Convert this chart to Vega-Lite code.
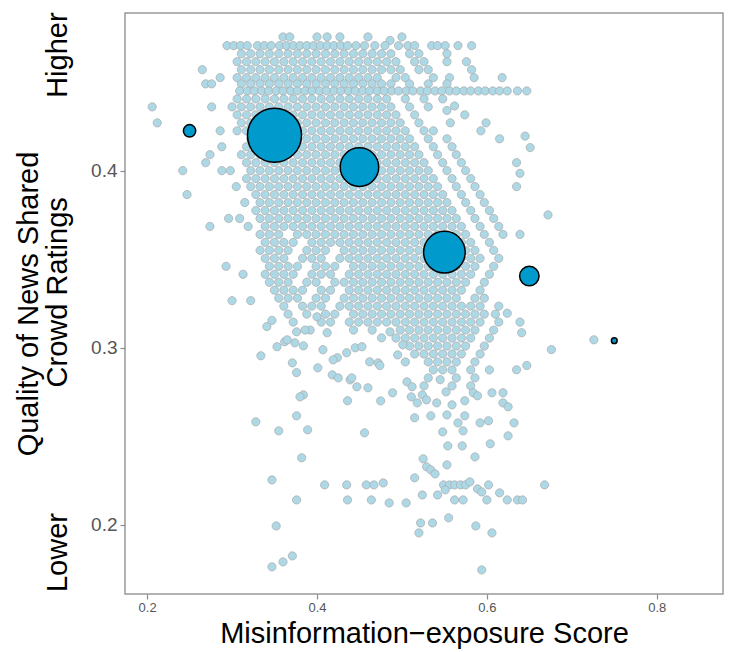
{
"$schema": "https://vega.github.io/schema/vega-lite/v6.json",
"width": 598, "height": 581,
"autosize": {"type": "none"},
"padding": {"left": 125, "top": 13, "right": 6, "bottom": 58},
"background": "white",
"config": {"font": "Liberation Sans", "view": {"stroke": "#999999", "strokeWidth": 1.5}},
"datasets": {
"bins": [
{"x":0.25,"y":0.4225,"n":56},{"x":0.35,"y":0.420,"n":1070},{"x":0.45,"y":0.402,"n":544},{"x":0.55,"y":0.354,"n":635},{"x":0.65,"y":0.3405,"n":139},{"x":0.75,"y":0.304,"n":12}
],
"pts": [
{"x":0.360,"y":0.4755},{"x":0.368,"y":0.4755},{"x":0.400,"y":0.4755},{"x":0.412,"y":0.4755},{"x":0.427,"y":0.4755},{"x":0.460,"y":0.4755},{"x":0.486,"y":0.4735},{"x":0.500,"y":0.4755},
{"x":0.294,"y":0.4706},{"x":0.302,"y":0.4706},{"x":0.310,"y":0.4706},{"x":0.318,"y":0.4706},{"x":0.330,"y":0.4706},{"x":0.338,"y":0.4706},{"x":0.346,"y":0.4706},{"x":0.356,"y":0.4706},{"x":0.364,"y":0.4706},{"x":0.372,"y":0.4706},{"x":0.380,"y":0.4706},{"x":0.388,"y":0.4706},{"x":0.396,"y":0.4706},{"x":0.404,"y":0.4706},{"x":0.412,"y":0.4706},{"x":0.420,"y":0.4706},{"x":0.428,"y":0.4706},{"x":0.436,"y":0.4706},{"x":0.446,"y":0.4706},{"x":0.456,"y":0.4706},{"x":0.468,"y":0.4706},{"x":0.480,"y":0.4706},{"x":0.496,"y":0.4706},{"x":0.507,"y":0.4706},{"x":0.515,"y":0.4706},{"x":0.535,"y":0.4706},{"x":0.542,"y":0.4706},{"x":0.551,"y":0.4706},{"x":0.566,"y":0.4706},{"x":0.582,"y":0.4706},
{"x":0.311,"y":0.466},{"x":0.322,"y":0.466},{"x":0.333,"y":0.466},{"x":0.344,"y":0.466},{"x":0.355,"y":0.466},{"x":0.366,"y":0.466},{"x":0.377,"y":0.466},{"x":0.388,"y":0.466},{"x":0.399,"y":0.466},{"x":0.410,"y":0.466},{"x":0.421,"y":0.466},{"x":0.432,"y":0.466},{"x":0.443,"y":0.466},{"x":0.454,"y":0.466},{"x":0.465,"y":0.466},{"x":0.476,"y":0.466},{"x":0.487,"y":0.466},{"x":0.509,"y":0.466},{"x":0.520,"y":0.466},{"x":0.553,"y":0.466},
{"x":0.306,"y":0.4615},{"x":0.317,"y":0.4615},{"x":0.328,"y":0.4615},{"x":0.339,"y":0.4615},{"x":0.350,"y":0.4615},{"x":0.361,"y":0.4615},{"x":0.372,"y":0.4615},{"x":0.383,"y":0.4615},{"x":0.394,"y":0.4615},{"x":0.405,"y":0.4615},{"x":0.416,"y":0.4615},{"x":0.427,"y":0.4615},{"x":0.438,"y":0.4615},{"x":0.449,"y":0.4615},{"x":0.460,"y":0.4615},{"x":0.471,"y":0.4615},{"x":0.482,"y":0.4615},{"x":0.493,"y":0.4615},{"x":0.515,"y":0.4615},{"x":0.526,"y":0.4615},{"x":0.553,"y":0.4615},{"x":0.576,"y":0.4615},
{"x":0.265,"y":0.457},{"x":0.311,"y":0.457},{"x":0.322,"y":0.457},{"x":0.333,"y":0.457},{"x":0.344,"y":0.457},{"x":0.355,"y":0.457},{"x":0.366,"y":0.457},{"x":0.377,"y":0.457},{"x":0.388,"y":0.457},{"x":0.399,"y":0.457},{"x":0.410,"y":0.457},{"x":0.421,"y":0.457},{"x":0.432,"y":0.457},{"x":0.443,"y":0.457},{"x":0.454,"y":0.457},{"x":0.465,"y":0.457},{"x":0.476,"y":0.457},{"x":0.487,"y":0.457},{"x":0.498,"y":0.457},{"x":0.520,"y":0.457},{"x":0.531,"y":0.457},{"x":0.582,"y":0.457},
{"x":0.286,"y":0.4525},{"x":0.306,"y":0.4525},{"x":0.317,"y":0.4525},{"x":0.328,"y":0.4525},{"x":0.339,"y":0.4525},{"x":0.350,"y":0.4525},{"x":0.361,"y":0.4525},{"x":0.372,"y":0.4525},{"x":0.383,"y":0.4525},{"x":0.394,"y":0.4525},{"x":0.405,"y":0.4525},{"x":0.416,"y":0.4525},{"x":0.427,"y":0.4525},{"x":0.438,"y":0.4525},{"x":0.449,"y":0.4525},{"x":0.460,"y":0.4525},{"x":0.471,"y":0.4525},{"x":0.493,"y":0.4525},{"x":0.504,"y":0.4525},{"x":0.537,"y":0.4525},{"x":0.556,"y":0.4525},{"x":0.585,"y":0.4525},{"x":0.618,"y":0.4525},
{"x":0.269,"y":0.449},{"x":0.276,"y":0.449},{"x":0.311,"y":0.449},{"x":0.322,"y":0.449},{"x":0.333,"y":0.449},{"x":0.344,"y":0.449},{"x":0.355,"y":0.449},{"x":0.366,"y":0.449},{"x":0.377,"y":0.449},{"x":0.388,"y":0.449},{"x":0.399,"y":0.449},{"x":0.410,"y":0.449},{"x":0.421,"y":0.449},{"x":0.432,"y":0.449},{"x":0.443,"y":0.449},{"x":0.454,"y":0.449},{"x":0.465,"y":0.449},{"x":0.476,"y":0.449},{"x":0.487,"y":0.449},{"x":0.509,"y":0.449},{"x":0.531,"y":0.449},{"x":0.553,"y":0.449},
{"x":0.309,"y":0.445},{"x":0.318,"y":0.445},{"x":0.326,"y":0.445},{"x":0.335,"y":0.445},{"x":0.343,"y":0.445},{"x":0.352,"y":0.445},{"x":0.360,"y":0.445},{"x":0.369,"y":0.445},{"x":0.377,"y":0.445},{"x":0.386,"y":0.445},{"x":0.394,"y":0.445},{"x":0.403,"y":0.445},{"x":0.411,"y":0.445},{"x":0.420,"y":0.445},{"x":0.428,"y":0.445},{"x":0.437,"y":0.445},{"x":0.445,"y":0.445},{"x":0.454,"y":0.445},{"x":0.462,"y":0.445},{"x":0.471,"y":0.445},{"x":0.479,"y":0.445},{"x":0.488,"y":0.445},{"x":0.496,"y":0.445},{"x":0.505,"y":0.445},{"x":0.513,"y":0.445},{"x":0.522,"y":0.445},{"x":0.530,"y":0.445},{"x":0.539,"y":0.445},{"x":0.547,"y":0.445},{"x":0.556,"y":0.445},{"x":0.564,"y":0.445},{"x":0.573,"y":0.445},{"x":0.581,"y":0.445},{"x":0.590,"y":0.445},{"x":0.598,"y":0.445},{"x":0.607,"y":0.445},{"x":0.615,"y":0.445},{"x":0.624,"y":0.445},{"x":0.636,"y":0.445},{"x":0.647,"y":0.445},
{"x":0.306,"y":0.4405},{"x":0.317,"y":0.4405},{"x":0.328,"y":0.4405},{"x":0.339,"y":0.4405},{"x":0.350,"y":0.4405},{"x":0.361,"y":0.4405},{"x":0.372,"y":0.4405},{"x":0.383,"y":0.4405},{"x":0.394,"y":0.4405},{"x":0.405,"y":0.4405},{"x":0.416,"y":0.4405},{"x":0.427,"y":0.4405},{"x":0.438,"y":0.4405},{"x":0.449,"y":0.4405},{"x":0.460,"y":0.4405},{"x":0.471,"y":0.4405},{"x":0.482,"y":0.4405},{"x":0.504,"y":0.4405},{"x":0.526,"y":0.4405},{"x":0.548,"y":0.4405},
{"x":0.206,"y":0.436},{"x":0.276,"y":0.436},{"x":0.300,"y":0.436},{"x":0.311,"y":0.436},{"x":0.322,"y":0.436},{"x":0.333,"y":0.436},{"x":0.344,"y":0.436},{"x":0.355,"y":0.436},{"x":0.366,"y":0.436},{"x":0.377,"y":0.436},{"x":0.388,"y":0.436},{"x":0.399,"y":0.436},{"x":0.410,"y":0.436},{"x":0.421,"y":0.436},{"x":0.432,"y":0.436},{"x":0.443,"y":0.436},{"x":0.454,"y":0.436},{"x":0.465,"y":0.436},{"x":0.476,"y":0.436},{"x":0.487,"y":0.436},{"x":0.509,"y":0.436},{"x":0.531,"y":0.436},{"x":0.553,"y":0.434},{"x":0.562,"y":0.4365},
{"x":0.306,"y":0.4315},{"x":0.317,"y":0.4315},{"x":0.328,"y":0.4315},{"x":0.339,"y":0.4315},{"x":0.350,"y":0.4315},{"x":0.361,"y":0.4315},{"x":0.372,"y":0.4315},{"x":0.383,"y":0.4315},{"x":0.394,"y":0.4315},{"x":0.405,"y":0.4315},{"x":0.416,"y":0.4315},{"x":0.427,"y":0.4315},{"x":0.438,"y":0.4315},{"x":0.449,"y":0.4315},{"x":0.460,"y":0.4315},{"x":0.471,"y":0.4315},{"x":0.482,"y":0.4315},{"x":0.493,"y":0.4315},{"x":0.515,"y":0.4315},{"x":0.574,"y":0.4315},
{"x":0.212,"y":0.427},{"x":0.311,"y":0.427},{"x":0.322,"y":0.427},{"x":0.333,"y":0.427},{"x":0.344,"y":0.427},{"x":0.355,"y":0.427},{"x":0.366,"y":0.427},{"x":0.377,"y":0.427},{"x":0.388,"y":0.427},{"x":0.399,"y":0.427},{"x":0.410,"y":0.427},{"x":0.421,"y":0.427},{"x":0.432,"y":0.427},{"x":0.443,"y":0.427},{"x":0.454,"y":0.427},{"x":0.465,"y":0.427},{"x":0.476,"y":0.427},{"x":0.487,"y":0.427},{"x":0.498,"y":0.427},{"x":0.520,"y":0.427},{"x":0.557,"y":0.427},{"x":0.599,"y":0.427},
{"x":0.286,"y":0.4225},{"x":0.306,"y":0.4225},{"x":0.317,"y":0.4225},{"x":0.328,"y":0.4225},{"x":0.339,"y":0.4225},{"x":0.350,"y":0.4225},{"x":0.361,"y":0.4225},{"x":0.372,"y":0.4225},{"x":0.383,"y":0.4225},{"x":0.394,"y":0.4225},{"x":0.405,"y":0.4225},{"x":0.416,"y":0.4225},{"x":0.427,"y":0.4225},{"x":0.438,"y":0.4225},{"x":0.449,"y":0.4225},{"x":0.460,"y":0.4225},{"x":0.471,"y":0.4225},{"x":0.482,"y":0.4225},{"x":0.493,"y":0.4225},{"x":0.504,"y":0.4225},{"x":0.526,"y":0.4225},{"x":0.537,"y":0.4225},{"x":0.593,"y":0.4225},
{"x":0.322,"y":0.418},{"x":0.333,"y":0.418},{"x":0.344,"y":0.418},{"x":0.355,"y":0.418},{"x":0.366,"y":0.418},{"x":0.377,"y":0.418},{"x":0.388,"y":0.418},{"x":0.399,"y":0.418},{"x":0.410,"y":0.418},{"x":0.421,"y":0.418},{"x":0.432,"y":0.418},{"x":0.443,"y":0.418},{"x":0.454,"y":0.418},{"x":0.465,"y":0.418},{"x":0.476,"y":0.418},{"x":0.487,"y":0.418},{"x":0.498,"y":0.418},{"x":0.509,"y":0.418},{"x":0.531,"y":0.418},{"x":0.553,"y":0.418},{"x":0.615,"y":0.418},{"x":0.645,"y":0.4195},
{"x":0.288,"y":0.4135},{"x":0.317,"y":0.4135},{"x":0.328,"y":0.4135},{"x":0.339,"y":0.4135},{"x":0.350,"y":0.4135},{"x":0.361,"y":0.4135},{"x":0.372,"y":0.4135},{"x":0.383,"y":0.4135},{"x":0.394,"y":0.4135},{"x":0.405,"y":0.4135},{"x":0.416,"y":0.4135},{"x":0.427,"y":0.4135},{"x":0.438,"y":0.4135},{"x":0.449,"y":0.4135},{"x":0.460,"y":0.4135},{"x":0.471,"y":0.4135},{"x":0.482,"y":0.4135},{"x":0.493,"y":0.4135},{"x":0.504,"y":0.4135},{"x":0.515,"y":0.4135},{"x":0.537,"y":0.4135},{"x":0.559,"y":0.4135},{"x":0.651,"y":0.413},
{"x":0.274,"y":0.409},{"x":0.311,"y":0.409},{"x":0.322,"y":0.409},{"x":0.333,"y":0.409},{"x":0.344,"y":0.409},{"x":0.355,"y":0.409},{"x":0.366,"y":0.409},{"x":0.377,"y":0.409},{"x":0.388,"y":0.409},{"x":0.399,"y":0.409},{"x":0.410,"y":0.409},{"x":0.421,"y":0.409},{"x":0.432,"y":0.409},{"x":0.443,"y":0.409},{"x":0.454,"y":0.409},{"x":0.465,"y":0.409},{"x":0.476,"y":0.409},{"x":0.487,"y":0.409},{"x":0.498,"y":0.409},{"x":0.509,"y":0.409},{"x":0.520,"y":0.409},{"x":0.542,"y":0.409},{"x":0.564,"y":0.409},
{"x":0.269,"y":0.4045},{"x":0.317,"y":0.4045},{"x":0.328,"y":0.4045},{"x":0.339,"y":0.4045},{"x":0.350,"y":0.4045},{"x":0.361,"y":0.4045},{"x":0.372,"y":0.4045},{"x":0.383,"y":0.4045},{"x":0.394,"y":0.4045},{"x":0.405,"y":0.4045},{"x":0.416,"y":0.4045},{"x":0.427,"y":0.4045},{"x":0.438,"y":0.4045},{"x":0.449,"y":0.4045},{"x":0.460,"y":0.4045},{"x":0.471,"y":0.4045},{"x":0.482,"y":0.4045},{"x":0.493,"y":0.4045},{"x":0.504,"y":0.4045},{"x":0.515,"y":0.4045},{"x":0.526,"y":0.4045},{"x":0.548,"y":0.4045},{"x":0.570,"y":0.4045},{"x":0.635,"y":0.4045},
{"x":0.242,"y":0.400},{"x":0.288,"y":0.400},{"x":0.298,"y":0.400},{"x":0.322,"y":0.400},{"x":0.333,"y":0.400},{"x":0.344,"y":0.400},{"x":0.355,"y":0.400},{"x":0.366,"y":0.400},{"x":0.377,"y":0.400},{"x":0.388,"y":0.400},{"x":0.399,"y":0.400},{"x":0.410,"y":0.400},{"x":0.421,"y":0.400},{"x":0.432,"y":0.400},{"x":0.443,"y":0.400},{"x":0.454,"y":0.400},{"x":0.465,"y":0.400},{"x":0.476,"y":0.400},{"x":0.487,"y":0.400},{"x":0.498,"y":0.400},{"x":0.509,"y":0.400},{"x":0.520,"y":0.400},{"x":0.531,"y":0.400},{"x":0.553,"y":0.400},{"x":0.575,"y":0.400},{"x":0.639,"y":0.3985},
{"x":0.317,"y":0.3955},{"x":0.328,"y":0.3955},{"x":0.339,"y":0.3955},{"x":0.350,"y":0.3955},{"x":0.361,"y":0.3955},{"x":0.372,"y":0.3955},{"x":0.383,"y":0.3955},{"x":0.394,"y":0.3955},{"x":0.405,"y":0.3955},{"x":0.416,"y":0.3955},{"x":0.427,"y":0.3955},{"x":0.438,"y":0.3955},{"x":0.449,"y":0.3955},{"x":0.460,"y":0.3955},{"x":0.471,"y":0.3955},{"x":0.482,"y":0.3955},{"x":0.493,"y":0.3955},{"x":0.504,"y":0.3955},{"x":0.515,"y":0.3955},{"x":0.526,"y":0.3955},{"x":0.537,"y":0.3955},{"x":0.559,"y":0.3955},{"x":0.581,"y":0.3955},
{"x":0.305,"y":0.391},{"x":0.322,"y":0.391},{"x":0.333,"y":0.391},{"x":0.344,"y":0.391},{"x":0.355,"y":0.391},{"x":0.366,"y":0.391},{"x":0.377,"y":0.391},{"x":0.388,"y":0.391},{"x":0.399,"y":0.391},{"x":0.410,"y":0.391},{"x":0.421,"y":0.391},{"x":0.432,"y":0.391},{"x":0.443,"y":0.391},{"x":0.454,"y":0.391},{"x":0.465,"y":0.391},{"x":0.476,"y":0.391},{"x":0.487,"y":0.391},{"x":0.498,"y":0.391},{"x":0.509,"y":0.391},{"x":0.520,"y":0.391},{"x":0.531,"y":0.391},{"x":0.542,"y":0.391},{"x":0.564,"y":0.391},{"x":0.586,"y":0.391},{"x":0.635,"y":0.391},
{"x":0.247,"y":0.3865},{"x":0.328,"y":0.3865},{"x":0.339,"y":0.3865},{"x":0.350,"y":0.3865},{"x":0.361,"y":0.3865},{"x":0.372,"y":0.3865},{"x":0.383,"y":0.3865},{"x":0.394,"y":0.3865},{"x":0.405,"y":0.3865},{"x":0.416,"y":0.3865},{"x":0.427,"y":0.3865},{"x":0.438,"y":0.3865},{"x":0.449,"y":0.3865},{"x":0.460,"y":0.3865},{"x":0.471,"y":0.3865},{"x":0.482,"y":0.3865},{"x":0.493,"y":0.3865},{"x":0.504,"y":0.3865},{"x":0.515,"y":0.3865},{"x":0.526,"y":0.3865},{"x":0.537,"y":0.3865},{"x":0.548,"y":0.3865},{"x":0.570,"y":0.3865},{"x":0.592,"y":0.3865},
{"x":0.315,"y":0.382},{"x":0.333,"y":0.382},{"x":0.344,"y":0.382},{"x":0.355,"y":0.382},{"x":0.366,"y":0.382},{"x":0.377,"y":0.382},{"x":0.388,"y":0.382},{"x":0.399,"y":0.382},{"x":0.410,"y":0.382},{"x":0.421,"y":0.382},{"x":0.432,"y":0.382},{"x":0.443,"y":0.382},{"x":0.454,"y":0.382},{"x":0.465,"y":0.382},{"x":0.476,"y":0.382},{"x":0.487,"y":0.382},{"x":0.498,"y":0.382},{"x":0.509,"y":0.382},{"x":0.520,"y":0.382},{"x":0.531,"y":0.382},{"x":0.542,"y":0.382},{"x":0.553,"y":0.382},{"x":0.575,"y":0.382},{"x":0.597,"y":0.382},
{"x":0.328,"y":0.3775},{"x":0.339,"y":0.3775},{"x":0.350,"y":0.3775},{"x":0.361,"y":0.3775},{"x":0.372,"y":0.3775},{"x":0.383,"y":0.3775},{"x":0.394,"y":0.3775},{"x":0.405,"y":0.3775},{"x":0.416,"y":0.3775},{"x":0.427,"y":0.3775},{"x":0.438,"y":0.3775},{"x":0.449,"y":0.3775},{"x":0.460,"y":0.3775},{"x":0.471,"y":0.3775},{"x":0.482,"y":0.3775},{"x":0.493,"y":0.3775},{"x":0.504,"y":0.3775},{"x":0.515,"y":0.3775},{"x":0.526,"y":0.3775},{"x":0.537,"y":0.3775},{"x":0.548,"y":0.3775},{"x":0.559,"y":0.3775},{"x":0.581,"y":0.3775},{"x":0.603,"y":0.3775},
{"x":0.296,"y":0.373},{"x":0.309,"y":0.373},{"x":0.333,"y":0.373},{"x":0.344,"y":0.373},{"x":0.355,"y":0.373},{"x":0.366,"y":0.373},{"x":0.377,"y":0.373},{"x":0.388,"y":0.373},{"x":0.399,"y":0.373},{"x":0.410,"y":0.373},{"x":0.421,"y":0.373},{"x":0.432,"y":0.373},{"x":0.443,"y":0.373},{"x":0.454,"y":0.373},{"x":0.465,"y":0.373},{"x":0.476,"y":0.373},{"x":0.487,"y":0.373},{"x":0.498,"y":0.373},{"x":0.509,"y":0.373},{"x":0.520,"y":0.373},{"x":0.531,"y":0.373},{"x":0.542,"y":0.373},{"x":0.553,"y":0.373},{"x":0.564,"y":0.373},{"x":0.586,"y":0.373},{"x":0.608,"y":0.373},{"x":0.672,"y":0.375},
{"x":0.274,"y":0.3685},{"x":0.319,"y":0.3685},{"x":0.339,"y":0.3685},{"x":0.350,"y":0.3685},{"x":0.361,"y":0.3685},{"x":0.372,"y":0.3685},{"x":0.383,"y":0.3685},{"x":0.394,"y":0.3685},{"x":0.405,"y":0.3685},{"x":0.416,"y":0.3685},{"x":0.427,"y":0.3685},{"x":0.438,"y":0.3685},{"x":0.449,"y":0.3685},{"x":0.460,"y":0.3685},{"x":0.471,"y":0.3685},{"x":0.482,"y":0.3685},{"x":0.493,"y":0.3685},{"x":0.504,"y":0.3685},{"x":0.515,"y":0.3685},{"x":0.526,"y":0.3685},{"x":0.537,"y":0.3685},{"x":0.548,"y":0.3685},{"x":0.559,"y":0.3685},{"x":0.570,"y":0.3685},{"x":0.592,"y":0.3685},{"x":0.614,"y":0.3685},
{"x":0.333,"y":0.364},{"x":0.344,"y":0.364},{"x":0.355,"y":0.364},{"x":0.377,"y":0.364},{"x":0.388,"y":0.364},{"x":0.399,"y":0.364},{"x":0.410,"y":0.364},{"x":0.421,"y":0.364},{"x":0.432,"y":0.364},{"x":0.443,"y":0.364},{"x":0.454,"y":0.364},{"x":0.465,"y":0.364},{"x":0.476,"y":0.364},{"x":0.487,"y":0.364},{"x":0.498,"y":0.364},{"x":0.509,"y":0.364},{"x":0.520,"y":0.364},{"x":0.531,"y":0.364},{"x":0.542,"y":0.364},{"x":0.553,"y":0.364},{"x":0.564,"y":0.364},{"x":0.575,"y":0.364},{"x":0.597,"y":0.364},{"x":0.619,"y":0.364},{"x":0.639,"y":0.364},
{"x":0.339,"y":0.3595},{"x":0.350,"y":0.3595},{"x":0.361,"y":0.3595},{"x":0.372,"y":0.3595},{"x":0.394,"y":0.3595},{"x":0.405,"y":0.3595},{"x":0.416,"y":0.3595},{"x":0.427,"y":0.3595},{"x":0.438,"y":0.3595},{"x":0.449,"y":0.3595},{"x":0.460,"y":0.3595},{"x":0.471,"y":0.3595},{"x":0.482,"y":0.3595},{"x":0.493,"y":0.3595},{"x":0.504,"y":0.3595},{"x":0.515,"y":0.3595},{"x":0.526,"y":0.3595},{"x":0.537,"y":0.3595},{"x":0.548,"y":0.3595},{"x":0.559,"y":0.3595},{"x":0.570,"y":0.3595},{"x":0.581,"y":0.3595},{"x":0.603,"y":0.3595},
{"x":0.333,"y":0.355},{"x":0.344,"y":0.355},{"x":0.355,"y":0.355},{"x":0.366,"y":0.355},{"x":0.388,"y":0.355},{"x":0.399,"y":0.355},{"x":0.410,"y":0.355},{"x":0.432,"y":0.355},{"x":0.443,"y":0.355},{"x":0.454,"y":0.355},{"x":0.465,"y":0.355},{"x":0.476,"y":0.355},{"x":0.487,"y":0.355},{"x":0.498,"y":0.355},{"x":0.509,"y":0.355},{"x":0.520,"y":0.355},{"x":0.531,"y":0.355},{"x":0.542,"y":0.355},{"x":0.553,"y":0.355},{"x":0.564,"y":0.355},{"x":0.575,"y":0.355},{"x":0.586,"y":0.355},{"x":0.608,"y":0.355},
{"x":0.339,"y":0.3505},{"x":0.350,"y":0.3505},{"x":0.361,"y":0.3505},{"x":0.383,"y":0.3505},{"x":0.394,"y":0.3505},{"x":0.405,"y":0.3505},{"x":0.427,"y":0.3505},{"x":0.438,"y":0.3505},{"x":0.449,"y":0.3505},{"x":0.460,"y":0.3505},{"x":0.471,"y":0.3505},{"x":0.482,"y":0.3505},{"x":0.493,"y":0.3505},{"x":0.504,"y":0.3505},{"x":0.515,"y":0.3505},{"x":0.526,"y":0.3505},{"x":0.537,"y":0.3505},{"x":0.548,"y":0.3505},{"x":0.559,"y":0.3505},{"x":0.570,"y":0.3505},{"x":0.581,"y":0.3505},{"x":0.592,"y":0.3505},{"x":0.614,"y":0.3505},
{"x":0.293,"y":0.346},{"x":0.344,"y":0.346},{"x":0.355,"y":0.346},{"x":0.366,"y":0.346},{"x":0.377,"y":0.346},{"x":0.399,"y":0.346},{"x":0.410,"y":0.346},{"x":0.421,"y":0.346},{"x":0.443,"y":0.346},{"x":0.454,"y":0.346},{"x":0.465,"y":0.346},{"x":0.476,"y":0.346},{"x":0.487,"y":0.346},{"x":0.498,"y":0.346},{"x":0.509,"y":0.346},{"x":0.520,"y":0.346},{"x":0.531,"y":0.346},{"x":0.542,"y":0.346},{"x":0.553,"y":0.346},{"x":0.564,"y":0.346},{"x":0.575,"y":0.346},{"x":0.586,"y":0.346},{"x":0.608,"y":0.346},
{"x":0.313,"y":0.3415},{"x":0.339,"y":0.3415},{"x":0.350,"y":0.3415},{"x":0.361,"y":0.3415},{"x":0.372,"y":0.3415},{"x":0.394,"y":0.3415},{"x":0.405,"y":0.3415},{"x":0.416,"y":0.3415},{"x":0.438,"y":0.3415},{"x":0.449,"y":0.3415},{"x":0.460,"y":0.3415},{"x":0.471,"y":0.3415},{"x":0.482,"y":0.3415},{"x":0.493,"y":0.3415},{"x":0.504,"y":0.3415},{"x":0.515,"y":0.3415},{"x":0.526,"y":0.3415},{"x":0.537,"y":0.3415},{"x":0.548,"y":0.3415},{"x":0.559,"y":0.3415},{"x":0.570,"y":0.3415},{"x":0.581,"y":0.3415},{"x":0.603,"y":0.3415},
{"x":0.344,"y":0.337},{"x":0.355,"y":0.337},{"x":0.366,"y":0.337},{"x":0.388,"y":0.337},{"x":0.399,"y":0.337},{"x":0.421,"y":0.337},{"x":0.432,"y":0.337},{"x":0.443,"y":0.337},{"x":0.454,"y":0.337},{"x":0.465,"y":0.337},{"x":0.476,"y":0.337},{"x":0.487,"y":0.337},{"x":0.498,"y":0.337},{"x":0.509,"y":0.337},{"x":0.520,"y":0.337},{"x":0.531,"y":0.337},{"x":0.542,"y":0.337},{"x":0.553,"y":0.337},{"x":0.564,"y":0.337},{"x":0.575,"y":0.337},{"x":0.597,"y":0.337},
{"x":0.350,"y":0.3325},{"x":0.361,"y":0.3325},{"x":0.372,"y":0.3325},{"x":0.383,"y":0.3325},{"x":0.405,"y":0.3325},{"x":0.416,"y":0.3325},{"x":0.438,"y":0.3325},{"x":0.449,"y":0.3325},{"x":0.460,"y":0.3325},{"x":0.471,"y":0.3325},{"x":0.482,"y":0.3325},{"x":0.493,"y":0.3325},{"x":0.504,"y":0.3325},{"x":0.515,"y":0.3325},{"x":0.526,"y":0.3325},{"x":0.537,"y":0.3325},{"x":0.548,"y":0.3325},{"x":0.559,"y":0.3325},{"x":0.570,"y":0.3325},{"x":0.592,"y":0.3325},
{"x":0.355,"y":0.328},{"x":0.366,"y":0.328},{"x":0.377,"y":0.328},{"x":0.399,"y":0.328},{"x":0.410,"y":0.328},{"x":0.432,"y":0.328},{"x":0.443,"y":0.328},{"x":0.454,"y":0.328},{"x":0.465,"y":0.328},{"x":0.476,"y":0.328},{"x":0.487,"y":0.328},{"x":0.498,"y":0.328},{"x":0.509,"y":0.328},{"x":0.520,"y":0.328},{"x":0.531,"y":0.328},{"x":0.542,"y":0.328},{"x":0.553,"y":0.328},{"x":0.564,"y":0.328},{"x":0.586,"y":0.328},{"x":0.597,"y":0.328},
{"x":0.300,"y":0.3266},{"x":0.322,"y":0.3266},{"x":0.361,"y":0.3235},{"x":0.383,"y":0.3235},{"x":0.394,"y":0.3235},{"x":0.405,"y":0.3235},{"x":0.427,"y":0.3235},{"x":0.438,"y":0.3235},{"x":0.449,"y":0.3235},{"x":0.460,"y":0.3235},{"x":0.471,"y":0.3235},{"x":0.482,"y":0.3235},{"x":0.493,"y":0.3235},{"x":0.504,"y":0.3235},{"x":0.515,"y":0.3235},{"x":0.526,"y":0.3235},{"x":0.537,"y":0.3235},{"x":0.548,"y":0.3235},{"x":0.559,"y":0.3235},{"x":0.570,"y":0.3235},{"x":0.581,"y":0.3235},{"x":0.592,"y":0.3235},{"x":0.614,"y":0.3235},
{"x":0.366,"y":0.319},{"x":0.388,"y":0.319},{"x":0.410,"y":0.319},{"x":0.421,"y":0.319},{"x":0.443,"y":0.319},{"x":0.454,"y":0.319},{"x":0.465,"y":0.319},{"x":0.476,"y":0.319},{"x":0.487,"y":0.319},{"x":0.498,"y":0.319},{"x":0.509,"y":0.319},{"x":0.520,"y":0.319},{"x":0.531,"y":0.319},{"x":0.542,"y":0.319},{"x":0.553,"y":0.319},{"x":0.564,"y":0.319},{"x":0.575,"y":0.319},{"x":0.586,"y":0.319},{"x":0.597,"y":0.319},{"x":0.610,"y":0.319},{"x":0.624,"y":0.3195},
{"x":0.372,"y":0.3145},{"x":0.405,"y":0.3145},{"x":0.416,"y":0.3145},{"x":0.438,"y":0.3145},{"x":0.449,"y":0.3145},{"x":0.460,"y":0.3145},{"x":0.471,"y":0.3145},{"x":0.482,"y":0.3145},{"x":0.493,"y":0.3145},{"x":0.504,"y":0.3145},{"x":0.515,"y":0.3145},{"x":0.526,"y":0.3145},{"x":0.537,"y":0.3145},{"x":0.548,"y":0.3145},{"x":0.559,"y":0.3145},{"x":0.570,"y":0.3145},{"x":0.581,"y":0.3145},{"x":0.592,"y":0.3145},{"x":0.614,"y":0.3145},{"x":0.639,"y":0.3145},
{"x":0.443,"y":0.310},{"x":0.465,"y":0.310},{"x":0.509,"y":0.310},{"x":0.520,"y":0.310},{"x":0.531,"y":0.310},{"x":0.542,"y":0.310},{"x":0.553,"y":0.310},{"x":0.564,"y":0.310},{"x":0.575,"y":0.310},{"x":0.586,"y":0.310},{"x":0.608,"y":0.310},{"x":0.641,"y":0.3085},
{"x":0.493,"y":0.3055},{"x":0.504,"y":0.3055},{"x":0.515,"y":0.3055},{"x":0.526,"y":0.3055},{"x":0.537,"y":0.3055},{"x":0.548,"y":0.3055},{"x":0.559,"y":0.3055},{"x":0.570,"y":0.3055},{"x":0.581,"y":0.3055},{"x":0.603,"y":0.3055},
{"x":0.509,"y":0.301},{"x":0.520,"y":0.301},{"x":0.531,"y":0.301},{"x":0.542,"y":0.301},{"x":0.553,"y":0.301},{"x":0.564,"y":0.301},{"x":0.575,"y":0.301},{"x":0.597,"y":0.301},
{"x":0.515,"y":0.2965},{"x":0.526,"y":0.2965},{"x":0.537,"y":0.2965},{"x":0.548,"y":0.2965},{"x":0.559,"y":0.2965},{"x":0.570,"y":0.2965},{"x":0.592,"y":0.2965},{"x":0.676,"y":0.299},
{"x":0.504,"y":0.292},{"x":0.531,"y":0.292},{"x":0.542,"y":0.292},{"x":0.553,"y":0.292},{"x":0.564,"y":0.292},{"x":0.586,"y":0.292},
{"x":0.537,"y":0.2875},{"x":0.548,"y":0.2875},{"x":0.559,"y":0.2875},{"x":0.581,"y":0.2875},{"x":0.603,"y":0.2875},{"x":0.647,"y":0.290},
{"x":0.531,"y":0.283},{"x":0.564,"y":0.283},{"x":0.586,"y":0.283},{"x":0.635,"y":0.2876},
{"x":0.526,"y":0.2785},{"x":0.559,"y":0.2785},{"x":0.581,"y":0.2785},
{"x":0.341,"y":0.312},{"x":0.347,"y":0.3155},{"x":0.334,"y":0.2955},{"x":0.353,"y":0.3006},{"x":0.362,"y":0.3034},{"x":0.374,"y":0.3028},{"x":0.384,"y":0.3011},{"x":0.376,"y":0.309},{"x":0.392,"y":0.310},{"x":0.412,"y":0.3085},{"x":0.371,"y":0.2915},{"x":0.376,"y":0.286},{"x":0.384,"y":0.2734},{"x":0.401,"y":0.2887},{"x":0.418,"y":0.2847},{"x":0.424,"y":0.2944},{"x":0.435,"y":0.2972},{"x":0.445,"y":0.300},{"x":0.453,"y":0.3006},{"x":0.462,"y":0.2921},{"x":0.472,"y":0.2915},{"x":0.439,"y":0.2819},{"x":0.447,"y":0.278},{"x":0.495,"y":0.296},{"x":0.501,"y":0.3017},{"x":0.506,"y":0.2808},{"x":0.512,"y":0.278},{"x":0.489,"y":0.2746},{"x":0.545,"y":0.282},{"x":0.726,"y":0.3045},
{"x":0.365,"y":0.3045},{"x":0.386,"y":0.310},{"x":0.400,"y":0.3175},{"x":0.407,"y":0.2989},{"x":0.419,"y":0.2932},{"x":0.425,"y":0.283},{"x":0.441,"y":0.283},{"x":0.460,"y":0.2774},{"x":0.474,"y":0.290},{"x":0.476,"y":0.3056},{"x":0.486,"y":0.309},{"x":0.498,"y":0.310},
{"x":0.328,"y":0.2582},{"x":0.355,"y":0.2531},{"x":0.376,"y":0.2616},{"x":0.380,"y":0.2723},{"x":0.389,"y":0.2537},{"x":0.382,"y":0.2379},{"x":0.347,"y":0.2254},{"x":0.376,"y":0.2141},{"x":0.409,"y":0.2226},{"x":0.435,"y":0.2226},{"x":0.436,"y":0.2141},{"x":0.436,"y":0.2701},{"x":0.352,"y":0.1994},{"x":0.371,"y":0.1825},{"x":0.360,"y":0.1791},{"x":0.347,"y":0.1763},
{"x":0.456,"y":0.252},{"x":0.475,"y":0.270},{"x":0.511,"y":0.2723},{"x":0.518,"y":0.2689},{"x":0.524,"y":0.2734},{"x":0.529,"y":0.2706},{"x":0.541,"y":0.2689},{"x":0.552,"y":0.2751},{"x":0.559,"y":0.2678},{"x":0.574,"y":0.2701},{"x":0.584,"y":0.2746},{"x":0.589,"y":0.2729},{"x":0.606,"y":0.2746},{"x":0.619,"y":0.2746},{"x":0.619,"y":0.2689},{"x":0.625,"y":0.2667},{"x":0.515,"y":0.2605},{"x":0.534,"y":0.2616},{"x":0.553,"y":0.2621},{"x":0.574,"y":0.2616},{"x":0.566,"y":0.2576},{"x":0.572,"y":0.2531},{"x":0.548,"y":0.2525},{"x":0.592,"y":0.2576},{"x":0.602,"y":0.2588},{"x":0.632,"y":0.2576},{"x":0.625,"y":0.2503},{"x":0.604,"y":0.2458},{"x":0.554,"y":0.2446},{"x":0.571,"y":0.2446},{"x":0.586,"y":0.2384},{"x":0.525,"y":0.2373},{"x":0.529,"y":0.2328},{"x":0.534,"y":0.2311},{"x":0.539,"y":0.2288},{"x":0.553,"y":0.2339},{"x":0.515,"y":0.2266},{"x":0.458,"y":0.2226},{"x":0.467,"y":0.2226},{"x":0.478,"y":0.2237},{"x":0.549,"y":0.2226},{"x":0.556,"y":0.2226},{"x":0.562,"y":0.2226},{"x":0.569,"y":0.2226},{"x":0.575,"y":0.2226},{"x":0.580,"y":0.2243},{"x":0.551,"y":0.2198},{"x":0.589,"y":0.2203},{"x":0.594,"y":0.2186},{"x":0.602,"y":0.2226},{"x":0.615,"y":0.2181},{"x":0.668,"y":0.2226},{"x":0.464,"y":0.2141},{"x":0.485,"y":0.2124},{"x":0.505,"y":0.2124},{"x":0.524,"y":0.2169},{"x":0.542,"y":0.2169},{"x":0.562,"y":0.2141},{"x":0.572,"y":0.2141},{"x":0.600,"y":0.2141},{"x":0.624,"y":0.2141},{"x":0.636,"y":0.2141},{"x":0.642,"y":0.2141},{"x":0.522,"y":0.2011},{"x":0.536,"y":0.2011},{"x":0.520,"y":0.1955},{"x":0.555,"y":0.204},{"x":0.587,"y":0.1994},{"x":0.606,"y":0.1955},{"x":0.594,"y":0.1746}
]
},
"layer": [
{
"data": {"name": "pts"},
"mark": {"type": "circle", "size": 68, "fill": "#add8e6", "stroke": "#a9a9a9", "strokeWidth": 0.7, "opacity": 1},
"encoding": {
"x": {"field": "x", "type": "quantitative", "scale": {"domain": [0.174, 0.878], "nice": false, "zero": false},
"axis": {"values": [0.2, 0.4, 0.6, 0.8], "format": ".1f", "title": "Misinformation−exposure Score", "domain": false, "grid": false, "tickColor": "#8c8c8c", "tickSize": 5, "tickWidth": 1.2, "labelColor": "#555555", "labelFontSize": 13, "labelPadding": 2, "labelFont": "Liberation Sans", "titleFont": "Liberation Sans", "titleFontSize": 29, "titleFontWeight": "normal", "titleColor": "#000000", "titlePadding": 5}},
"y": {"field": "y", "type": "quantitative", "scale": {"domain": [0.161, 0.489], "nice": false, "zero": false},
"axis": {"orient": "left", "values": [0.2, 0.3, 0.4], "format": ".1f", "title": null, "domain": false, "grid": false, "tickColor": "#8c8c8c", "tickSize": 5, "tickWidth": 1.2, "labelColor": "#555555", "labelFontSize": 19, "labelPadding": 3, "labelFont": "Liberation Sans"}}
}
},
{
"data": {"name": "bins"},
"mark": {"type": "circle", "fill": "#009acd", "stroke": "#000000", "strokeWidth": 1.5, "opacity": 1},
"encoding": {
"x": {"field": "x", "type": "quantitative"},
"y": {"field": "y", "type": "quantitative",
"axis": {"orient": "left", "values": [0.4655, 0.3316, 0.1847], "labelExpr": "datum.value > 0.45 ? 'Higher' : (datum.value > 0.3 ? 'Crowd Ratings' : 'Lower')", "domain": false, "ticks": false, "tickSize": 0, "grid": false, "offset": 57, "labelPadding": 2, "labelAngle": -90, "labelAlign": "center", "labelBaseline": "alphabetic", "labelFontSize": 29, "labelColor": "#000000", "labelFont": "Liberation Sans", "labelLimit": 0, "labelOverlap": false, "labelBound": false, "labelFlush": false, "title": "Quality of News Shared", "titleFont": "Liberation Sans", "titleFontSize": 29, "titleFontWeight": "normal", "titleColor": "#000000", "titlePadding": 0}},
"size": {"field": "n", "type": "quantitative", "scale": {"domain": [0, 1070], "range": [0, 2922]}, "legend": null}
}
}
],
"resolve": {"axis": {"y": "independent"}}
}
